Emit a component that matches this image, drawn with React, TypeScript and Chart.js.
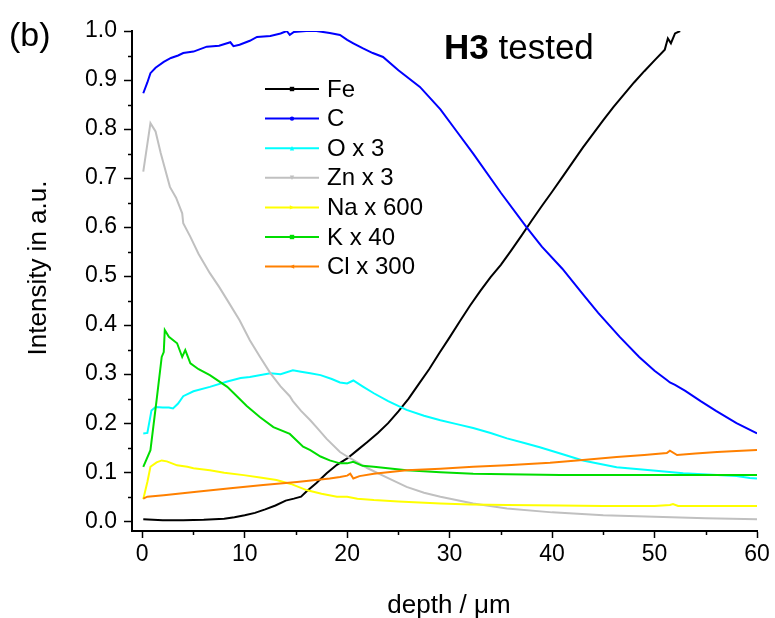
import React, { useEffect, useRef } from "react";
import { Chart, registerables } from "chart.js";
Chart.register(...registerables);

const FONT = "Arial, 'Liberation Sans', Helvetica, sans-serif";

const xTickValues = [0, 10, 20, 30, 40, 50, 60];
const xMinorTicks = [5, 15, 25, 35, 45, 55];
const yTickValues = [0, 0.1, 0.2, 0.3, 0.4, 0.5, 0.6, 0.7, 0.8, 0.9, 1.0];
const yMinorTicks = [0.05, 0.15, 0.25, 0.35, 0.45, 0.55, 0.65, 0.75, 0.85, 0.95];

const seriesLabels = ["Fe", "C", "O x 3", "Zn x 3", "Na x 600", "K x 40", "Cl x 300"];
const seriesColors = ["#000000", "#0000ff", "#00ffff", "#c0c0c0", "#ffff00", "#00dd00", "#ff8000"];
const seriesMarkers = ["square", "circle", "triUp", "triDown", "triRight", "square", "triLeft"];

const feDepth = [0.1, 2, 4, 6, 8, 9, 10, 11, 12, 13, 14, 14.8, 15.5, 16, 17, 18, 19, 20, 21, 22, 23, 24, 25, 26, 27, 28, 29, 30, 31, 32, 33, 34, 35, 36, 37, 38, 39, 40, 41, 42, 43, 44, 45, 46, 47, 48, 49, 50, 51, 51.3, 51.6, 52, 52.5];
const feIntensity = [0.004, 0.002, 0.002, 0.003, 0.005, 0.008, 0.012, 0.017, 0.024, 0.032, 0.042, 0.046, 0.05, 0.06, 0.078, 0.098, 0.115, 0.128, 0.145, 0.162, 0.18, 0.2, 0.224, 0.25, 0.28, 0.31, 0.343, 0.375, 0.408, 0.44, 0.47, 0.498, 0.523, 0.552, 0.582, 0.613, 0.643, 0.672, 0.702, 0.732, 0.762, 0.79, 0.818, 0.845, 0.87, 0.895, 0.918, 0.94, 0.962, 0.985, 0.975, 0.995, 1.0];

const cDepth = [0.1, 0.5, 0.8, 1.3, 2.1, 2.8, 3.5, 4, 5, 6.3, 7.5, 8.6, 8.9, 9.5, 10.5, 11.2, 12.5, 13.5, 14.1, 14.4, 14.8, 16, 17, 18.3, 19.3, 20, 20.6, 21.5, 22.5, 23.5, 25, 27.1, 29.1, 30.7, 32.3, 35, 37.5, 39, 41, 43, 44.5, 46.6, 48.5, 50, 51.2, 51.5, 52, 53, 54.5, 56, 58, 60];
const cIntensity = [0.873, 0.895, 0.914, 0.925, 0.937, 0.945, 0.95, 0.955, 0.958, 0.968, 0.97, 0.977, 0.969, 0.972, 0.98, 0.988, 0.99, 0.995, 1.0, 0.992, 0.998, 1.0, 1.0, 0.996, 0.992, 0.982, 0.975, 0.965, 0.955, 0.947, 0.92, 0.886, 0.84, 0.795, 0.75, 0.67, 0.6, 0.56, 0.515, 0.463, 0.425, 0.376, 0.335, 0.307, 0.288, 0.283, 0.278, 0.266, 0.245, 0.225, 0.2, 0.179];

const oDepth = [0.1, 0.5, 0.9, 1.3, 2, 2.6, 3, 3.5, 4, 5, 6.6, 8.3, 9.6, 10.5, 12.5, 13.5, 14.7, 15.5, 16.4, 17.4, 18.5, 19.3, 20, 20.6, 21.5, 22.6, 24, 25.8, 27.5, 29.1, 30.7, 32.3, 34, 35.6, 37.2, 38.8, 40.8, 43, 46.3, 49.6, 52.8, 56.1, 58, 59.3, 60];
const oIntensity = [0.179, 0.18, 0.226, 0.233, 0.232, 0.232, 0.23, 0.24, 0.255, 0.265, 0.274, 0.285, 0.292, 0.294, 0.302, 0.3, 0.308, 0.305, 0.302, 0.298, 0.29, 0.283, 0.281, 0.287, 0.275, 0.261, 0.245, 0.227, 0.215, 0.206, 0.198, 0.19, 0.18, 0.169, 0.16, 0.151, 0.138, 0.124, 0.11, 0.104, 0.098, 0.094, 0.092, 0.088, 0.087];

const znDepth = [0.1, 0.8, 1.3, 1.8, 2.7, 3.3, 3.9, 4, 4.7, 5.5, 6.6, 7.5, 8.3, 9.5, 10.5, 11.5, 12.5, 13.5, 14.4, 14.7, 15.5, 16.4, 17, 18, 19.3, 20, 21, 22, 24, 25.8, 27.5, 29.1, 32.3, 35.6, 40, 45, 50, 55, 60];
const znIntensity = [0.713, 0.812, 0.795, 0.751, 0.682, 0.66, 0.628, 0.608, 0.58, 0.545, 0.506, 0.478, 0.451, 0.41, 0.369, 0.335, 0.302, 0.275, 0.255, 0.245, 0.225, 0.206, 0.192, 0.168, 0.141, 0.132, 0.12, 0.108, 0.088, 0.07, 0.058, 0.05, 0.036, 0.026, 0.018, 0.012, 0.009, 0.006, 0.004];

const naDepth = [0.1, 0.5, 0.8, 1.4, 1.9, 2.4, 3.4, 4.4, 5, 6.6, 8, 9.9, 11.5, 13.1, 14.5, 16.1, 17.5, 19, 20, 21, 22.6, 25, 29.1, 32, 35.6, 40.8, 45, 50, 51.5, 51.8, 52.3, 55, 60];
const naIntensity = [0.045, 0.08, 0.111, 0.12, 0.124, 0.122, 0.114, 0.111, 0.108, 0.104, 0.099, 0.094, 0.089, 0.084, 0.076, 0.063, 0.056, 0.05, 0.05, 0.046, 0.043, 0.04, 0.036, 0.034, 0.033, 0.032, 0.031, 0.031, 0.033, 0.035, 0.031, 0.031, 0.031];

const kDepth = [0.1, 0.8, 1.4, 1.9, 2.1, 2.2, 2.6, 3.4, 3.9, 4.2, 4.7, 5.5, 6.6, 8.3, 10.2, 11.5, 12.8, 14.4, 15.7, 16.4, 17.4, 18.3, 19.3, 20, 20.6, 21.5, 22.6, 25.8, 29.1, 32.3, 35.6, 40.8, 45, 50, 55, 60];
const kIntensity = [0.111, 0.145, 0.247, 0.335, 0.345, 0.39, 0.376, 0.363, 0.335, 0.349, 0.322, 0.31, 0.298, 0.274, 0.235, 0.212, 0.192, 0.178, 0.152, 0.145, 0.132, 0.124, 0.118, 0.118, 0.121, 0.113, 0.111, 0.104, 0.1, 0.097, 0.096, 0.094, 0.094, 0.094, 0.094, 0.094];

const clDepth = [0.1, 0.5, 2.1, 5.3, 8.6, 11.8, 15.1, 18.3, 19.3, 20, 20.3, 20.6, 21.2, 22.6, 25.8, 29.1, 32.3, 35.6, 39.8, 43, 46.3, 49, 51.2, 51.5, 52.2, 54, 56.1, 58, 60];
const clIntensity = [0.046, 0.05, 0.053, 0.06, 0.067, 0.074, 0.08, 0.087, 0.09, 0.093, 0.097, 0.087, 0.092, 0.097, 0.104, 0.107, 0.111, 0.114, 0.119, 0.125, 0.131, 0.135, 0.139, 0.144, 0.135, 0.138, 0.141, 0.143, 0.145];

const seriesDepths = [feDepth, cDepth, oDepth, znDepth, naDepth, kDepth, clDepth];
const seriesValues = [feIntensity, cIntensity, oIntensity, znIntensity, naIntensity, kIntensity, clIntensity];

function drawMarker(ctx: CanvasRenderingContext2D, kind: string, x: number, y: number, r: number) {
  ctx.beginPath();
  if (kind === "square") {
    ctx.rect(x - r, y - r, 2 * r, 2 * r);
  } else if (kind === "circle") {
    ctx.arc(x, y, r, 0, Math.PI * 2);
  } else if (kind === "triUp") {
    ctx.moveTo(x, y - r); ctx.lineTo(x + r, y + r); ctx.lineTo(x - r, y + r);
  } else if (kind === "triDown") {
    ctx.moveTo(x, y + r); ctx.lineTo(x + r, y - r); ctx.lineTo(x - r, y - r);
  } else if (kind === "triRight") {
    ctx.moveTo(x + r, y); ctx.lineTo(x - r, y - r); ctx.lineTo(x - r, y + r);
  } else {
    ctx.moveTo(x - r, y); ctx.lineTo(x + r, y - r); ctx.lineTo(x + r, y + r);
  }
  ctx.closePath();
  ctx.fill();
}

const overlayPlugin = {
  id: "overlay",
  afterDraw(chart: any) {
    const ctx: CanvasRenderingContext2D = chart.ctx;
    const xs = chart.scales.x;
    const ys = chart.scales.y;
    const area = chart.chartArea;
    ctx.save();
    ctx.strokeStyle = "#000";
    ctx.lineWidth = 1.5;
    xMinorTicks.forEach((v) => {
      const px = Math.round(xs.getPixelForValue(v)) + 0.5;
      ctx.beginPath();
      ctx.moveTo(px, area.bottom);
      ctx.lineTo(px, area.bottom + 4);
      ctx.stroke();
    });
    yMinorTicks.forEach((v) => {
      const py = Math.round(ys.getPixelForValue(v)) + 0.5;
      ctx.beginPath();
      ctx.moveTo(area.left, py);
      ctx.lineTo(area.left - 4, py);
      ctx.stroke();
    });

    // legend
    const legX = 265, legLen = 54, rowTop = 89, rowGap = 29.6;
    seriesLabels.forEach((lab, i) => {
      const y = rowTop + i * rowGap;
      ctx.strokeStyle = seriesColors[i];
      ctx.fillStyle = seriesColors[i];
      ctx.lineWidth = 2;
      ctx.beginPath();
      ctx.moveTo(legX, y);
      ctx.lineTo(legX + legLen, y);
      ctx.stroke();
      drawMarker(ctx, seriesMarkers[i], legX + legLen / 2, y, 2.2);
      ctx.fillStyle = "#000";
      ctx.font = `24px ${FONT}`;
      ctx.textAlign = "left";
      ctx.textBaseline = "middle";
      ctx.fillText(lab, legX + legLen + 8, y + 1);
    });

    ctx.fillStyle = "#000";
    ctx.textBaseline = "alphabetic";
    ctx.textAlign = "left";
    ctx.font = `34px ${FONT}`;
    ctx.fillText("(b)", 9, 46);

    ctx.font = `bold 35px ${FONT}`;
    const h3w = ctx.measureText("H3").width;
    ctx.fillText("H3", 444, 59);
    ctx.font = `35px ${FONT}`;
    ctx.fillText(" tested", 444 + h3w, 59);

    ctx.font = `26px ${FONT}`;
    ctx.textAlign = "center";
    ctx.fillText("depth / \u03bcm", 449, 613);

    ctx.translate(46, 268);
    ctx.rotate(-Math.PI / 2);
    ctx.fillText("Intensity in a.u.", 0, 0);
    ctx.restore();
  },
};

export default function App() {
  const canvasRef = useRef<HTMLCanvasElement | null>(null);
  useEffect(() => {
    document.body.style.margin = "0";
    const canvas = canvasRef.current;
    if (!canvas) return;
    const datasets = seriesLabels.map((lab, i) => ({
      label: lab,
      data: seriesDepths[i].map((x, j) => ({ x, y: seriesValues[i][j] })),
      borderColor: seriesColors[i],
      backgroundColor: seriesColors[i],
      borderWidth: 2,
      pointRadius: 0,
      tension: 0,
      fill: false,
      order: 7 - i,
    }));
    const chart = new Chart(canvas, {
      type: "line",
      data: { datasets },
      plugins: [overlayPlugin],
      options: {
        responsive: false,
        animation: false,
        layout: { padding: { left: 0, top: 31, right: 18, bottom: 0 } },
        plugins: { legend: { display: false }, tooltip: { enabled: false } },
        scales: {
          x: {
            type: "linear",
            min: -1,
            max: 60,
            afterBuildTicks: (scale: any) => {
              scale.ticks = xTickValues.map((v) => ({ value: v }));
            },
            afterFit: (scale: any) => {
              scale.height = 87;
            },
            border: { display: true, color: "#000", width: 2 },
            grid: { drawOnChartArea: false, drawTicks: true, tickLength: 7, tickColor: "#000", tickWidth: 1.5 },
            ticks: {
              color: "#000",
              font: { family: FONT, size: 23 },
              padding: 3,
              maxRotation: 0,
              autoSkip: false,
              callback: (v: any) => String(v),
            },
          },
          y: {
            type: "linear",
            min: -0.02,
            max: 1.0,
            afterBuildTicks: (scale: any) => {
              scale.ticks = yTickValues.map((v) => ({ value: v }));
            },
            afterFit: (scale: any) => {
              scale.width = 132;
            },
            border: { display: true, color: "#000", width: 2 },
            grid: { drawOnChartArea: false, drawTicks: true, tickLength: 8, tickColor: "#000", tickWidth: 1.5 },
            ticks: {
              color: "#000",
              font: { family: FONT, size: 23 },
              padding: 7,
              autoSkip: false,
              callback: (v: any) => Number(v).toFixed(1),
            },
          },
        },
      },
    } as any);
    return () => chart.destroy();
  }, []);
  return (
    <div style={{ width: 775, height: 618, background: "#fff" }}>
      <canvas ref={canvasRef} width={775} height={618} style={{ display: "block" }} />
    </div>
  );
}
